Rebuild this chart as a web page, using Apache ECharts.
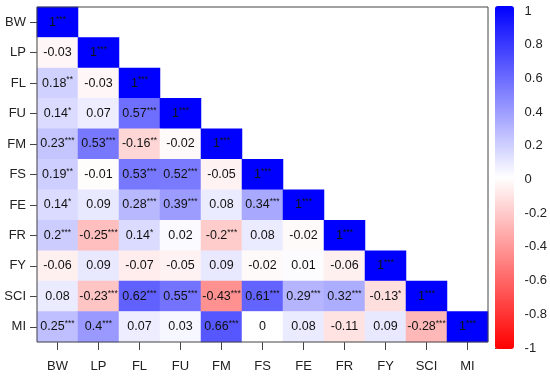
<!DOCTYPE html>
<html>
<head>
<meta charset="utf-8">
<script src="https://cdn.jsdelivr.net/npm/echarts@6/dist/echarts.min.js"></script>
<style>html,body{margin:0;padding:0;background:#fff}#c{width:550px;height:382px}</style>
</head>
<body>
<div id="c"></div>
<script>
const labels = ['BW','LP','FL','FU','FM','FS','FE','FR','FY','SCI','MI'];
const corr = [
  [1],
  [-0.03, 1],
  [0.18, -0.03, 1],
  [0.14, 0.07, 0.57, 1],
  [0.23, 0.53, -0.16, -0.02, 1],
  [0.19, -0.01, 0.53, 0.52, -0.05, 1],
  [0.14, 0.09, 0.28, 0.39, 0.08, 0.34, 1],
  [0.2, -0.25, 0.14, 0.02, -0.2, 0.08, -0.02, 1],
  [-0.06, 0.09, -0.07, -0.05, 0.09, -0.02, 0.01, -0.06, 1],
  [0.08, -0.23, 0.62, 0.55, -0.43, 0.61, 0.29, 0.32, -0.13, 1],
  [0.25, 0.4, 0.07, 0.03, 0.66, 0, 0.08, -0.11, 0.09, -0.28, 1]
];
const stars = [
  ['***'],
  ['', '***'],
  ['**', '', '***'],
  ['*', '', '***', '***'],
  ['***', '***', '**', '', '***'],
  ['**', '', '***', '***', '', '***'],
  ['*', '', '***', '***', '', '***', '***'],
  ['***', '***', '*', '', '***', '', '', '***'],
  ['', '', '', '', '', '', '', '', '***'],
  ['', '***', '***', '***', '***', '***', '***', '***', '*', '***'],
  ['***', '***', '', '', '***', '', '', '', '', '***', '***']
];
const colorbarTicks = { min: -1, max: 1, step: 0.2 };

const data = [];
corr.forEach((row, r) => row.forEach((v, c) => data.push([c, r, v, stars[r][c]])));

const FONT = "'Liberation Sans', Arial, sans-serif";
const chart = echarts.init(document.getElementById('c'), null, {renderer: 'canvas'});
chart.setOption({
  animation: false,
  backgroundColor: '#fff',
  grid: [
    {left: 37, top: 7, width: 451, height: 335, show: true, borderColor: '#444', borderWidth: 1, backgroundColor: 'transparent', z: 10},
    {left: 495, top: 11, width: 19, height: 337, show: false}
  ],
  xAxis: [
    {type: 'category', gridIndex: 0, data: labels, position: 'bottom',
     axisLine: {show: false}, splitLine: {show: false},
     axisTick: {show: true, alignWithLabel: true, length: 8, lineStyle: {color: '#444'}},
     axisLabel: {fontFamily: FONT, fontSize: 13, color: '#222', margin: 18}},
    {type: 'value', gridIndex: 1, show: false, min: 0, max: 1}
  ],
  yAxis: [
    {type: 'category', gridIndex: 0, data: labels, inverse: true,
     axisLine: {show: false}, splitLine: {show: false},
     axisTick: {show: true, alignWithLabel: true, length: 7, lineStyle: {color: '#444'}},
     axisLabel: {fontFamily: FONT, fontSize: 13, color: '#222', margin: 11}},
    {type: 'value', gridIndex: 1, position: 'right', min: colorbarTicks.min, max: colorbarTicks.max, interval: colorbarTicks.step,
     axisLine: {show: false}, splitLine: {show: false},
     axisTick: {show: true, length: 7, lineStyle: {color: '#444'}},
     axisLabel: {fontFamily: FONT, fontSize: 13, color: '#222', margin: 12}}
  ],
  visualMap: {
    type: 'continuous', min: -1, max: 1, seriesIndex: 0, dimension: 2,
    calculable: false, hoverLink: false, realtime: false,
    left: 495, top: 6, itemWidth: 19, itemHeight: 343, padding: 0,
    inRange: {color: ['#FF0000', '#FFFFFF', '#0000FF']},
    textStyle: {color: 'transparent'}
  },
  series: [
    {type: 'heatmap', xAxisIndex: 0, yAxisIndex: 0, data: data,
     itemStyle: {borderWidth: 0},
     label: {show: true, fontFamily: FONT, color: '#111', textBorderWidth: 0, textShadowBlur: 0,
       formatter: p => '{n|' + p.value[2] + '}' + (p.value[3] ? '{s|' + p.value[3] + '}' : ''),
       rich: {
         n: {fontFamily: FONT, fontSize: 12.5, color: '#111', lineHeight: 15, textBorderWidth: 0},
         s: {fontFamily: FONT, fontSize: 8.5, color: '#111', lineHeight: 15, verticalAlign: 'top', textBorderWidth: 0}
       }},
     emphasis: {disabled: true}},
    {type: 'scatter', xAxisIndex: 1, yAxisIndex: 1, data: []}
  ]
});
</script>
</body>
</html>
